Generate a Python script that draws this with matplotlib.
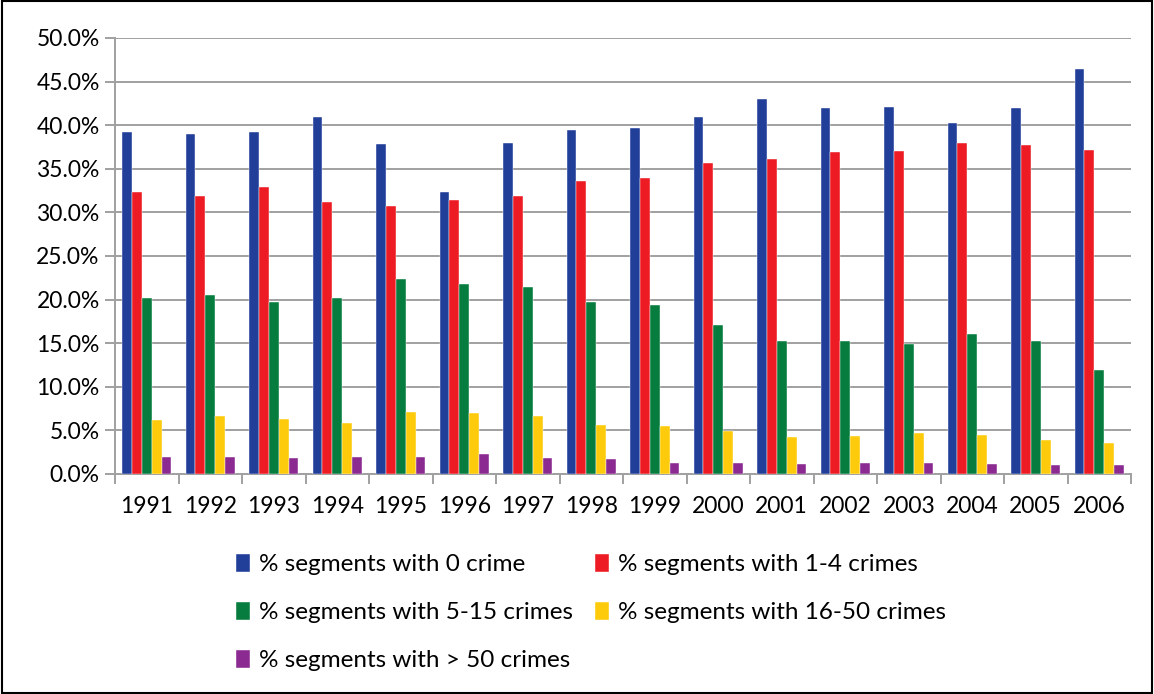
import matplotlib
matplotlib.use("Agg")
import matplotlib.pyplot as plt
import numpy as np
from matplotlib.ticker import FuncFormatter, FixedLocator

years = ["1991", "1992", "1993", "1994", "1995", "1996", "1997", "1998",
         "1999", "2000", "2001", "2002", "2003", "2004", "2005", "2006"]
zero_crime = [39.2, 39.0, 39.2, 40.9, 37.9, 32.3, 38.0, 39.5,
              39.7, 40.9, 43.0, 42.0, 42.1, 40.3, 42.0, 46.5]
crimes_1_4 = [32.3, 31.9, 32.9, 31.2, 30.7, 31.4, 31.9, 33.6,
              34.0, 35.7, 36.1, 36.9, 37.0, 38.0, 37.7, 37.2]
crimes_5_15 = [20.2, 20.5, 19.7, 20.2, 22.4, 21.8, 21.5, 19.7,
               19.4, 17.1, 15.3, 15.3, 14.9, 16.0, 15.3, 11.9]
crimes_16_50 = [6.2, 6.6, 6.3, 5.8, 7.1, 7.0, 6.6, 5.6,
                5.5, 4.9, 4.3, 4.4, 4.7, 4.5, 3.9, 3.5]
crimes_50p = [1.9, 1.9, 1.8, 1.9, 1.9, 2.3, 1.8, 1.7,
              1.3, 1.3, 1.2, 1.3, 1.3, 1.1, 1.0, 1.0]

series = [zero_crime, crimes_1_4, crimes_5_15, crimes_16_50, crimes_50p]
labels = ["% segments with 0 crime", "% segments with 1-4 crimes",
          "% segments with 5-15 crimes", "% segments with 16-50 crimes",
          "% segments with > 50 crimes"]
colors = ["#213f99", "#ed1c24", "#077c3f", "#fdcb0b", "#8b2a90"]

plt.rcParams['font.family'] = ['Lato', 'DejaVu Sans']

fig = plt.figure(figsize=(11.54, 6.94), dpi=100)
ax = fig.add_axes([115/1154, 1-474/694, (1131-115)/1154, (474-38)/694])

n = len(years)
x = np.arange(n)
bw = 0.155
handles = []
for i, (vals, lab, col) in enumerate(zip(series, labels, colors)):
    h = ax.bar(x + (i - 2) * bw, vals, width=bw, color=col, label=lab,
               zorder=3, edgecolor='white', linewidth=0.3)
    handles.append(h)

ax.set_xlim(-0.5, n - 0.5)
ax.set_ylim(0, 50)
ax.set_yticks(np.arange(0, 50.1, 5))
ax.yaxis.set_major_formatter(FuncFormatter(lambda v, p: f"{v:.1f}%"))
ax.grid(axis='y', color='#a0a0a0', linewidth=1.4, zorder=0)
ax.set_axisbelow(True)

ax.set_xticks(x)
ax.set_xticklabels(years)
ax.xaxis.set_minor_locator(FixedLocator(np.arange(-0.5, n, 1)))
ax.tick_params(axis='x', which='major', length=0, pad=16, labelsize=16.5)
ax.tick_params(axis='x', which='minor', length=7, width=1.4, color='#a0a0a0')
ax.tick_params(axis='y', length=7, width=1.4, color='#a0a0a0', labelsize=16.5, pad=4)

for s in ['top', 'right']:
    ax.spines[s].set_visible(False)
for s in ['left', 'bottom']:
    ax.spines[s].set_color('#a0a0a0')
    ax.spines[s].set_linewidth(1.4)

order = [0, 2, 4, 1, 3]
leg = fig.legend(handles=[handles[i] for i in order],
                 labels=[labels[i] for i in order], ncol=2,
                 loc='upper left', bbox_to_anchor=(214/1154, 1-532/694),
                 frameon=False, fontsize=17.5, handlelength=0.6, handleheight=0.75,
                 handletextpad=0.35, columnspacing=0.9, labelspacing=1.1)

border = plt.Rectangle((0.002, 0.002), 0.996, 0.996, transform=fig.transFigure,
                       fill=False, edgecolor='black', linewidth=1.5)
fig.patches.append(border)

fig.savefig("out.png", dpi=100)
